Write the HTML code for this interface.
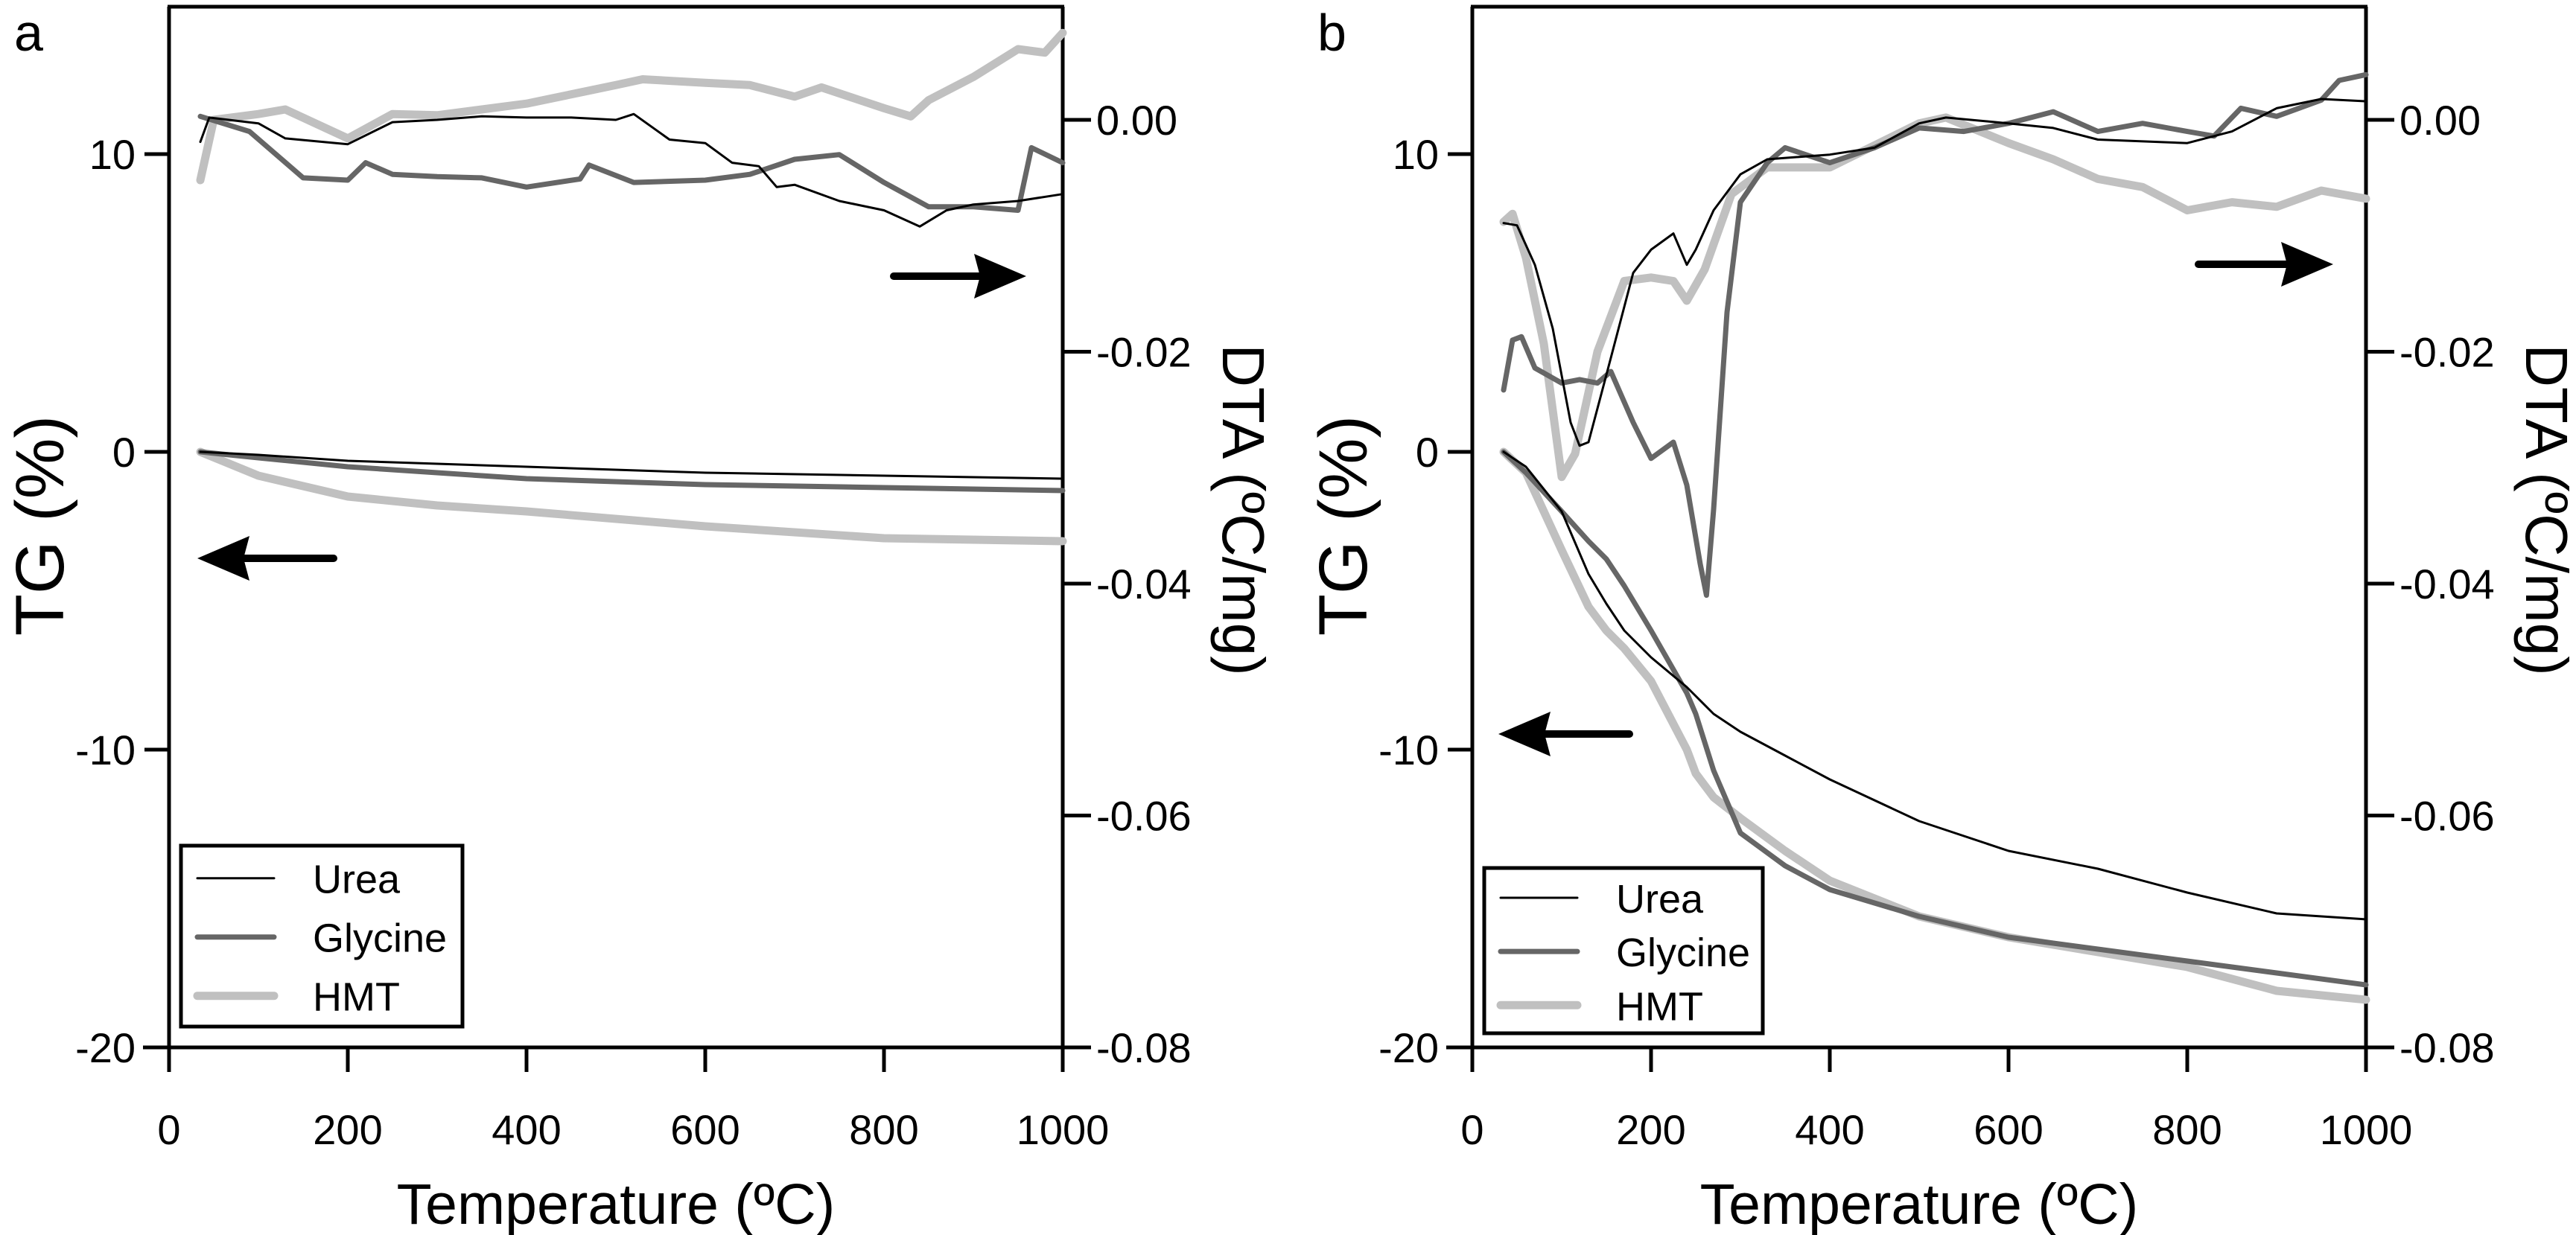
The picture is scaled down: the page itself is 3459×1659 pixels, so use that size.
<!DOCTYPE html>
<html><head><meta charset="utf-8">
<style>
html,body{margin:0;padding:0;background:#fff;}
svg{display:block;font-family:"Liberation Sans",Arial,sans-serif;}
</style></head>
<body>
<svg id="fig" width="3459" height="1659" viewBox="0 0 3459 1659" xmlns="http://www.w3.org/2000/svg"></svg>
<script>
// ---- data (T in ºC, TG in %, DTA in ºC/mg) ----
const tgTempsA = [35,100,200,300,400,600,800,1000];
const tgUreaA = [0,-0.1,-0.3,-0.4,-0.5,-0.7,-0.8,-0.9];
const tgGlyA  = [0,-0.2,-0.5,-0.7,-0.9,-1.1,-1.2,-1.3];
const tgHmtA  = [0,-0.8,-1.5,-1.8,-2.0,-2.5,-2.9,-3.0];

const dtaUreaTA = [35,45,100,130,200,250,300,350,400,450,500,520,560,600,630,660,680,700,750,800,840,870,900,950,1000];
const dtaUreaA  = [-0.0019,0.0002,-0.0003,-0.0016,-0.0021,-0.0002,0,0.0003,0.0002,0.0002,0,0.0005,-0.0017,-0.002,-0.0037,-0.004,-0.0058,-0.0056,-0.007,-0.0078,-0.0092,-0.0078,-0.0073,-0.007,-0.0064];
const dtaGlyTA = [35,90,150,200,220,250,300,350,400,460,470,520,600,650,700,750,800,850,900,950,965,1000];
const dtaGlyA  = [0.0003,-0.001,-0.005,-0.0052,-0.0037,-0.0047,-0.0049,-0.005,-0.0058,-0.0051,-0.0039,-0.0054,-0.0052,-0.0047,-0.0034,-0.003,-0.0054,-0.0075,-0.0075,-0.0078,-0.0024,-0.0037];
const dtaHmtTA = [35,50,100,130,200,250,300,400,500,530,600,650,700,730,800,830,850,900,950,980,1000];
const dtaHmtA  = [-0.0052,0,0.0005,0.0009,-0.0016,0.0005,0.0004,0.0014,0.003,0.0035,0.0032,0.003,0.002,0.0028,0.001,0.0003,0.0017,0.0037,0.0061,0.0058,0.0075];

const tgTempsB = [35,60,100,130,150,170,200,240,250,270,300,350,400,500,600,700,800,900,1000];
const tgUreaB = [0,-0.5,-2,-4.1,-5.1,-6,-6.9,-7.9,-8.2,-8.8,-9.4,-10.2,-11,-12.4,-13.4,-14,-14.8,-15.5,-15.7];
const tgGlyB  = [0,-0.7,-2,-3,-3.6,-4.5,-6,-8.1,-8.8,-10.7,-12.8,-13.9,-14.7,-15.6,-16.3,-16.7,-17.1,-17.5,-17.9];
const tgHmtB  = [0,-0.7,-3.3,-5.2,-6,-6.6,-7.7,-10,-10.8,-11.6,-12.3,-13.4,-14.4,-15.6,-16.3,-16.8,-17.3,-18.1,-18.4];

const dtaUreaTB = [35,50,70,90,110,120,130,150,180,200,225,240,250,270,300,330,400,450,500,530,600,650,700,800,850,900,950,1000];
const dtaUreaB  = [-0.0089,-0.0091,-0.0125,-0.018,-0.0261,-0.0281,-0.0278,-0.022,-0.0132,-0.0112,-0.0098,-0.0125,-0.0112,-0.0078,-0.0047,-0.0034,-0.003,-0.0024,-0.0003,0.0002,-0.0003,-0.0007,-0.0017,-0.002,-0.001,0.001,0.0018,0.0016];
const dtaGlyTB = [35,45,55,70,100,120,140,155,180,200,225,240,255,262,270,285,300,330,350,400,450,500,550,600,650,700,750,800,830,860,900,950,970,1000];
const dtaGlyB  = [-0.0233,-0.019,-0.0187,-0.0214,-0.0227,-0.0224,-0.0227,-0.0217,-0.0261,-0.0292,-0.0278,-0.0315,-0.0383,-0.041,-0.0336,-0.0166,-0.0071,-0.0037,-0.0024,-0.0037,-0.0024,-0.0007,-0.001,-0.0003,0.0007,-0.001,-0.0003,-0.001,-0.0014,0.001,0.0003,0.0017,0.0034,0.0039];
const dtaHmtTB = [35,45,60,80,100,115,140,170,200,225,240,260,290,330,400,500,530,600,650,700,750,800,850,900,950,1000];
const dtaHmtB  = [-0.0088,-0.0081,-0.0119,-0.0193,-0.0308,-0.0288,-0.02,-0.0139,-0.0136,-0.0139,-0.0156,-0.0129,-0.0064,-0.0041,-0.0041,-0.0003,0.0002,-0.002,-0.0034,-0.0051,-0.0058,-0.0078,-0.0071,-0.0075,-0.0061,-0.0068];

const xTicks = [0,200,400,600,800,1000];
const tgTicks = [10,0,-10,-20];
const dtaTicks = [0,-0.02,-0.04,-0.06,-0.08];
const dtaTickLabels = ["0.00","-0.02","-0.04","-0.06","-0.08"];
const seriesNames = ["Urea","Glycine","HMT"];

const NS = "http://www.w3.org/2000/svg";
const svg = document.getElementById("fig");
function el(tag, attrs, parent, text){
  const e = document.createElementNS(NS, tag);
  for (const k in attrs) e.setAttribute(k, attrs[k]);
  if (text !== undefined) e.textContent = text;
  (parent || svg).appendChild(e);
  return e;
}
const colors = ["#000000","#666666","#c0c0c0"];
const widths = [3,7,11];
const plotTop = 9, plotBottom = 1407;
function yTG(v){ return 607 + (0 - v) * 40; }
function yDTA(v){ return 161 + (0 - v) / 0.02 * 311.5; }

function panel(name, x0, label, tgSets, dtaSets, legendBox, arrowR, arrowL){
  const g = el("g", {});
  
  
  const x1 = x0 + 1200;
  const xS = t => x0 + t * 1.2;
  const ax = el("line", {x1:x0, y1:plotTop, x2:x0, y2:plotBottom+33, stroke:"#000","stroke-width":5}, g);
   
  const ar = el("line", {x1:x1, y1:plotTop, x2:x1, y2:plotBottom+33, stroke:"#000","stroke-width":5}, g);
   
  const at = el("line", {x1:x0-2, y1:plotTop, x2:x1+2, y2:plotTop, stroke:"#000","stroke-width":5}, g);
   
  const ab = el("line", {x1:x0-35, y1:plotBottom, x2:x1+38, y2:plotBottom, stroke:"#000","stroke-width":5}, g);
   
  xTicks.forEach(t => {
    const tk = el("line", {x1:xS(t), y1:plotBottom, x2:xS(t), y2:plotBottom+33, stroke:"#000","stroke-width":5}, g);
     
    const tl = el("text", {x:xS(t), y:plotBottom+130, "font-size":56, "text-anchor":"middle"}, g, String(t));
     
  });
  tgTicks.forEach(v => {
    const tk = el("line", {x1:x0-33, y1:yTG(v), x2:x0, y2:yTG(v), stroke:"#000","stroke-width":5}, g);
     
    const tl = el("text", {x:x0-45, y:yTG(v)+20, "font-size":56, "text-anchor":"end"}, g, String(v));
     
  });
  dtaTicks.forEach((v,i) => {
    const tk = el("line", {x1:x1, y1:yDTA(v), x2:x1+38, y2:yDTA(v), stroke:"#000","stroke-width":5}, g);
     
    const tl = el("text", {x:x1+45, y:yDTA(v)+20, "font-size":56}, g, dtaTickLabels[i]);
     
  });
  const xt = el("text", {x:x0+600, y:1644, "font-size":77, "text-anchor":"middle"}, g, "Temperature (ºC)");
   
  const ty = el("text", {x:0, y:0, "font-size":92, "text-anchor":"middle", transform:`translate(${x0-142},706) rotate(-90)`}, g, "TG (%)");
   
  const dy = el("text", {x:0, y:0, "font-size":80, "text-anchor":"middle", transform:`translate(${x1+215},685) rotate(90)`}, g, "DTA (ºC/mg)");
   
  const pl = el("text", {x:x0-208, y:68, "font-size":70}, g, label);
   
  const draw = (T, V, yf, i, kind) => {
    const pts = T.map((t,k) => xS(t).toFixed(1) + "," + yf(V[k]).toFixed(1)).join(" ");
    const p = el("polyline", {points:pts, fill:"none", stroke:colors[i], "stroke-width":widths[i], "stroke-linejoin":"round", "stroke-linecap":"round"}, g);
    
    
  };
  [2,1,0].forEach(i => { draw(tgSets[i][0], tgSets[i][1], yTG, i, 'tg'); });
  [2,1,0].forEach(i => { draw(dtaSets[i][0], dtaSets[i][1], yDTA, i, 'dta'); });
  const arr = (a, dir, nm) => {
    const [xa, xb, y] = a;
    const grp = el("g", {}, g);
     
    if (dir > 0) {
      el("line", {x1:xa, y1:y, x2:xb-60, y2:y, stroke:"#000","stroke-width":10,"stroke-linecap":"round"}, grp);
      el("polygon", {points:`${xb},${y} ${xb-70},${y-30} ${xb-62},${y} ${xb-70},${y+30}`, fill:"#000"}, grp);
    } else {
      el("line", {x1:xa+60, y1:y, x2:xb, y2:y, stroke:"#000","stroke-width":10,"stroke-linecap":"round"}, grp);
      el("polygon", {points:`${xa},${y} ${xa+70},${y-30} ${xa+62},${y} ${xa+70},${y+30}`, fill:"#000"}, grp);
    }
  };
  arr(arrowR, 1, 'dta-axis-arrow');
  arr(arrowL, -1, 'tg-axis-arrow');
  const [lx, ly, lw, lh] = legendBox;
  const lg = el("g", {}, g);
   
  el("rect", {x:lx, y:ly, width:lw, height:lh, fill:"#fff", stroke:"#000", "stroke-width":5}, lg);
  seriesNames.forEach((n,i) => {
    const yy = ly + lh*(0.18 + 0.325*i);
    const ent = el("g", {}, lg);
     
    el("line", {x1:lx+22, y1:yy, x2:lx+125, y2:yy, stroke:colors[i], "stroke-width":widths[i], "stroke-linecap":"round"}, ent);
    el("text", {x:lx+177, y:yy+20, "font-size":54}, ent, n);
  });
}

panel("a", 227, "a",
  [[tgTempsA,tgUreaA],[tgTempsA,tgGlyA],[tgTempsA,tgHmtA]],
  [[dtaUreaTA,dtaUreaA],[dtaGlyTA,dtaGlyA],[dtaHmtTA,dtaHmtA]],
  [243,1136,378,243], [1200,1378,371], [265,448,750]);
panel("b", 1977, "b",
  [[tgTempsB,tgUreaB],[tgTempsB,tgGlyB],[tgTempsB,tgHmtB]],
  [[dtaUreaTB,dtaUreaB],[dtaGlyTB,dtaGlyB],[dtaHmtTB,dtaHmtB]],
  [1993,1166,374,222], [2952,3133,355], [2012,2188,986]);
</script>
</body></html>
